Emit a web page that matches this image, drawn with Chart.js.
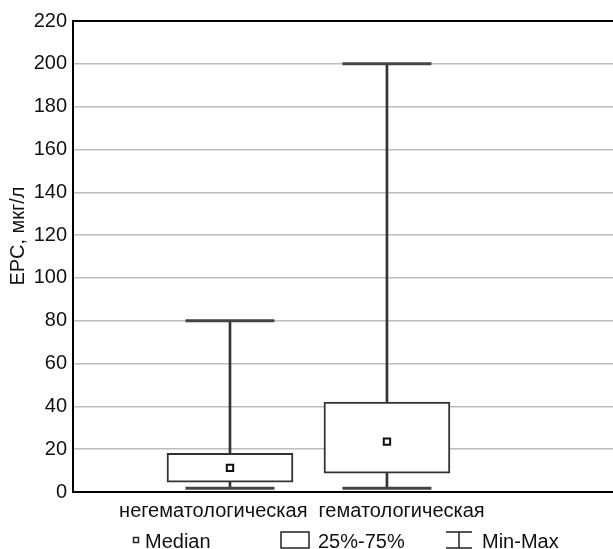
<!DOCTYPE html>
<html>
<head>
<meta charset="utf-8">
<script src="https://cdn.jsdelivr.net/npm/chart.js@4.4.1/dist/chart.umd.min.js"></script>
<style>
  html, body { margin: 0; padding: 0; background: #fff; }
  #boxChart { display: block; }
</style>
</head>
<body>
<canvas id="boxChart" width="613" height="549"></canvas>
<script>
// EPC by group: min / quartiles / median / max
var categories = ['негематологическая', 'гематологическая'];
var minValues = [1.8, 1.8];
var q1Values = [4.6, 8.8];
var medianValues = [11.3, 23.5];
var q3Values = [18.1, 42];
var maxValues = [80, 200];
var legendLabels = ['Median', '25%-75%', 'Min-Max'];
var axisTitle = 'ЕРС, мкг/л';

var sans = "'Liberation Sans', Arial, sans-serif";
var ink = '#333';

function points(vals) {
    return vals.map(function (v, i) { return { x: i + 1, y: v }; });
}
function ranges(lo, hi) {
    return lo.map(function (v, i) { return { x: i + 1, y: [v, hi[i]] }; });
}

// category names, rotated axis title and the legend row
var extras = {
    id: 'extras',
    afterDraw: function (chart) {
        var ctx = chart.ctx;
        var xs = chart.scales.x;
        var mid = (xs.getPixelForValue(1) + xs.getPixelForValue(2)) / 2;

        ctx.save();
        ctx.fillStyle = '#111';
        ctx.font = '20px ' + sans;
        ctx.textBaseline = 'alphabetic';
        ctx.textAlign = 'right';
        ctx.fillText(categories[0], mid - 1, 517);
        ctx.textAlign = 'left';
        ctx.fillText(categories[1], mid + 10, 517);

        // legend
        ctx.strokeStyle = '#222';
        ctx.lineWidth = 1.5;
        ctx.strokeRect(133.5, 537.5, 5, 5);
        ctx.fillText(legendLabels[0], 145, 548);
        ctx.strokeRect(281, 532, 28, 16);
        ctx.fillText(legendLabels[1], 318, 548);
        ctx.beginPath();
        ctx.moveTo(446, 532); ctx.lineTo(472, 532);
        ctx.moveTo(446, 548); ctx.lineTo(472, 548);
        ctx.moveTo(459, 532); ctx.lineTo(459, 548);
        ctx.stroke();
        ctx.fillText(legendLabels[2], 482, 548);

        // y axis title
        ctx.translate(18, 236);
        ctx.rotate(-Math.PI / 2);
        ctx.textAlign = 'center';
        ctx.textBaseline = 'middle';
        ctx.font = '20px ' + sans;
        ctx.fillText(axisTitle, 0, 0);
        ctx.restore();
    }
};

new Chart(document.getElementById('boxChart'), {
    type: 'bar',
    data: {
        datasets: [
            {
                type: 'scatter',
                label: 'Median',
                data: points(medianValues),
                pointStyle: 'rect',
                pointRadius: 4.5,
                backgroundColor: '#fff',
                borderColor: '#111',
                borderWidth: 2,
                order: 0
            },
            {
                type: 'scatter',
                label: 'Min-Max caps',
                data: points(minValues).concat(points(maxValues)),
                pointStyle: 'line',
                pointRadius: 44.5,
                borderColor: '#444',
                borderWidth: 3,
                order: 1
            },
            {
                label: '25%-75%',
                data: ranges(q1Values, q3Values),
                backgroundColor: '#fff',
                borderColor: ink,
                borderWidth: 2,
                borderSkipped: false,
                barThickness: 126,
                grouped: false,
                order: 2
            },
            {
                label: 'lower whisker',
                data: ranges(minValues, q1Values),
                backgroundColor: ink,
                borderWidth: 0,
                barThickness: 2,
                grouped: false,
                order: 3
            },
            {
                label: 'upper whisker',
                data: ranges(q3Values, maxValues),
                backgroundColor: ink,
                borderWidth: 0,
                barThickness: 2,
                grouped: false,
                order: 3
            }
        ]
    },
    options: {
        responsive: false,
        animation: false,
        layout: {
            autoPadding: false,
            padding: { top: 21, right: 0, bottom: 0, left: 0 }
        },
        plugins: {
            legend: { display: false },
            tooltip: { enabled: false }
        },
        scales: {
            x: {
                type: 'linear',
                offset: false,
                min: 0,
                max: 3.44,
                ticks: { display: false },
                grid: { display: false, offset: false },
                border: { color: '#000', width: 2 },
                afterFit: function (scale) {
                    scale.height = 57;
                    scale.paddingLeft = 0;
                    scale.paddingRight = 0;
                }
            },
            y: {
                min: 0,
                max: 220,
                ticks: {
                    stepSize: 20,
                    padding: 6,
                    color: '#111',
                    font: { family: sans, size: 20 }
                },
                grid: {
                    drawTicks: false,
                    color: function (c) { return c.tick && c.tick.value === 220 ? '#000' : '#bdbdbd'; },
                    lineWidth: function (c) { return c.tick && c.tick.value === 220 ? 2 : 1.5; }
                },
                border: { color: '#000', width: 2 },
                afterFit: function (scale) {
                    scale.width = 73;
                    scale.paddingTop = 0;
                    scale.paddingBottom = 0;
                }
            }
        }
    },
    plugins: [extras]
});
</script>
</body>
</html>
